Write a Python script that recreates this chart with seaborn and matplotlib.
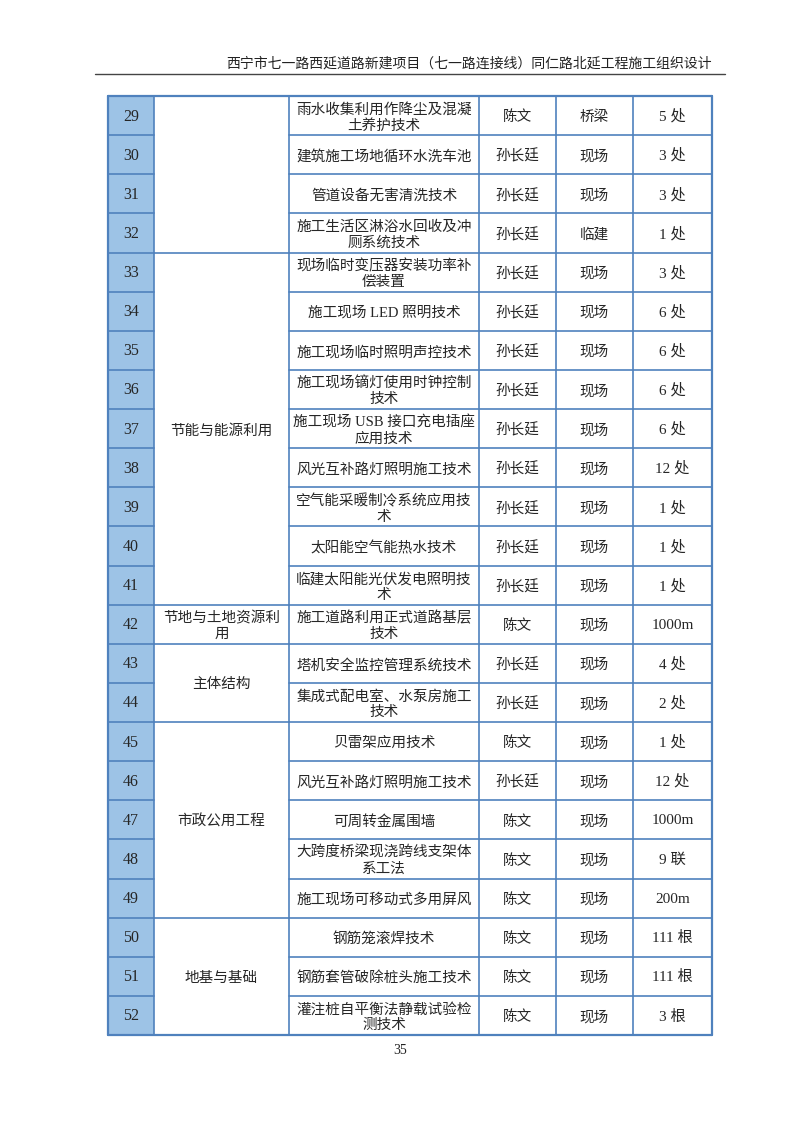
import matplotlib
matplotlib.use("Agg")
import matplotlib.pyplot as plt
from matplotlib.patches import Rectangle
import seaborn as sns

nums = list(range(29, 53))
items = ["雨水收集利用作降尘及混凝\n土养护技术", "建筑施工场地循环水洗车池", "管道设备无害清洗技术",
         "施工生活区淋浴水回收及冲\n厕系统技术", "现场临时变压器安装功率补\n偿装置", "施工现场 LED 照明技术",
         "施工现场临时照明声控技术", "施工现场镝灯使用时钟控制\n技术", "施工现场 USB 接口充电插座\n应用技术",
         "风光互补路灯照明施工技术", "空气能采暖制冷系统应用技\n术", "太阳能空气能热水技术",
         "临建太阳能光伏发电照明技\n术", "施工道路利用正式道路基层\n技术", "塔机安全监控管理系统技术",
         "集成式配电室、水泵房施工\n技术", "贝雷架应用技术", "风光互补路灯照明施工技术",
         "可周转金属围墙", "大跨度桥梁现浇跨线支架体\n系工法", "施工现场可移动式多用屏风",
         "钢筋笼滚焊技术", "钢筋套管破除桩头施工技术", "灌注桩自平衡法静载试验检\n测技术"]
persons = ["陈文", "孙长廷", "孙长廷", "孙长廷", "孙长廷", "孙长廷", "孙长廷", "孙长廷", "孙长廷",
           "孙长廷", "孙长廷", "孙长廷", "孙长廷", "陈文", "孙长廷", "孙长廷", "陈文", "孙长廷",
           "陈文", "陈文", "陈文", "陈文", "陈文", "陈文"]
places = ["桥梁", "现场", "现场", "临建"] + ["现场"] * 20
amounts = ["5 处", "3 处", "3 处", "1 处", "3 处", "6 处", "6 处", "6 处", "6 处", "12 处", "1 处",
           "1 处", "1 处", "1000m", "4 处", "2 处", "1 处", "12 处", "1000m", "9 联", "200m",
           "111 根", "111 根", "3 根"]
# (group label, first row index, row count)
groups = [("", 0, 4), ("节能与能源利用", 4, 9), ("节地与土地资源利\n用", 13, 1),
          ("主体结构", 14, 2), ("市政公用工程", 16, 5), ("地基与基础", 21, 3)]

sns.set_theme(style="white")
plt.rcParams["font.family"] = ["Liberation Serif", "Noto Sans CJK SC"]

fig = plt.figure(figsize=(8, 11.32), dpi=100)
ax = fig.add_axes([0, 0, 1, 1])
ax.set_xlim(0, 800)
ax.set_ylim(1132, 0)
ax.axis("off")

xs = [108, 154, 289, 479, 556, 633, 712]
top, bottom = 96, 1035
rh = (bottom - top) / len(nums)
line = "#4f81bd"
fs = 10.5
dy = 2
ls = 1.25

ax.text(712, 68, "西宁市七一路西延道路新建项目（七一路连接线）同仁路北延工程施工组织设计",
        ha="right", va="baseline", fontsize=10, color="#222222")
ax.plot([95, 725], [74, 74], color="#444444", lw=1)
ax.text(400, 1051, "35", ha="center", va="center", fontsize=10, color="#222222")

for i, n in enumerate(nums):
    y = top + i * rh
    ax.add_patch(Rectangle((xs[0], y), xs[1] - xs[0], rh, facecolor="#9dc3e6", edgecolor="none"))
    cy = y + rh / 2 + dy
    ax.text((xs[0] + xs[1]) / 2, cy - 1, str(n), ha="center", va="center", fontsize=11.5)
    ax.text((xs[2] + xs[3]) / 2, cy, items[i], ha="center", va="center", fontsize=fs, linespacing=ls)
    ax.text((xs[3] + xs[4]) / 2, cy, persons[i], ha="center", va="center", fontsize=fs)
    ax.text((xs[4] + xs[5]) / 2, cy, places[i], ha="center", va="center", fontsize=fs)
    ax.text((xs[5] + xs[6]) / 2, cy - 1, amounts[i], ha="center", va="center", fontsize=11)
    ax.plot([xs[0], xs[1]], [y, y], color=line, lw=1.2)
    ax.plot([xs[2], xs[6]], [y, y], color=line, lw=1.2)

for label, start, cnt in groups:
    y0 = top + start * rh
    ax.plot([xs[1], xs[2]], [y0, y0], color=line, lw=1.2)
    ax.text((xs[1] + xs[2]) / 2, y0 + cnt * rh / 2 + dy, label, ha="center", va="center",
            fontsize=fs, linespacing=ls)

ax.plot([xs[0], xs[6]], [bottom, bottom], color=line, lw=1.6)
ax.plot([xs[0], xs[6]], [top, top], color=line, lw=1.6)
for k, x in enumerate(xs):
    ax.plot([x, x], [top, bottom], color=line, lw=1.6 if k in (0, 6) else 1.2)

fig.savefig("out.png", dpi=100)
